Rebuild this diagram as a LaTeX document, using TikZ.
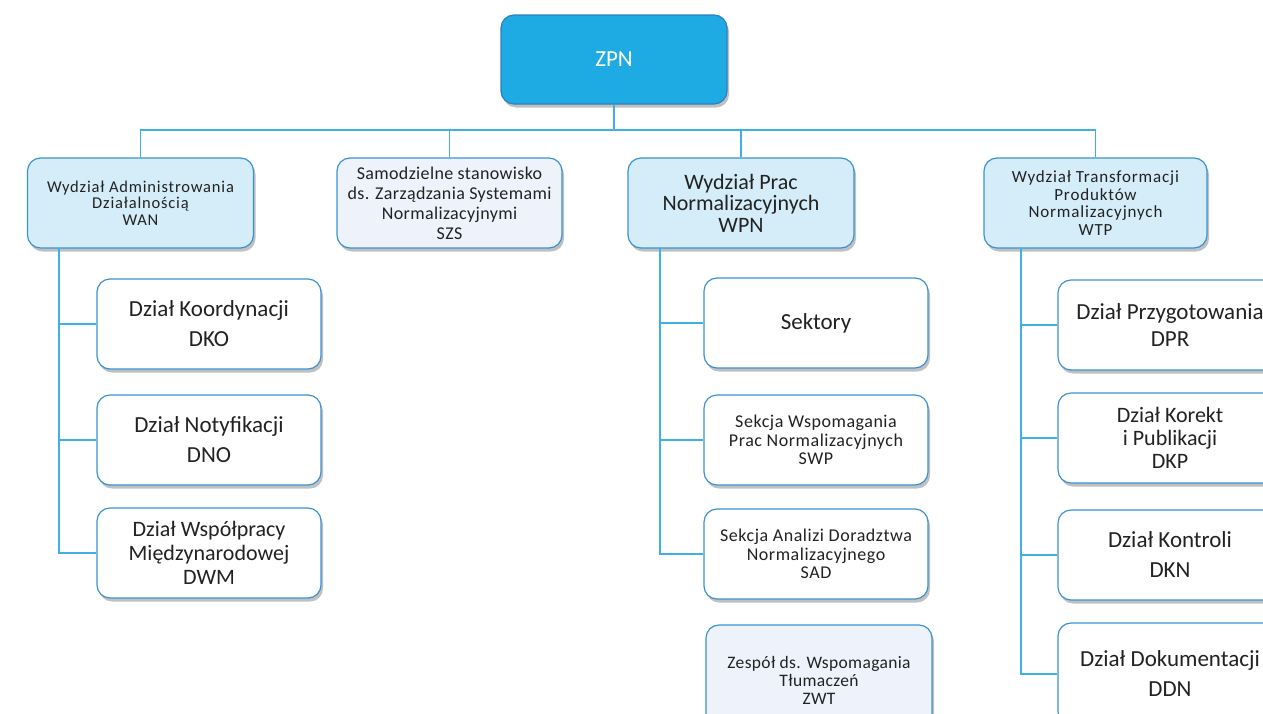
\documentclass[tikz,border=0pt]{standalone}
\usepackage{fontspec}
\setmainfont{Carlito}
\usetikzlibrary{shadows}
\definecolor{topfill}{HTML}{1EAAE2}
\definecolor{topdraw}{HTML}{2E80C0}
\definecolor{lightfill}{HTML}{D4EDF8}
\definecolor{paleFill}{HTML}{EEF2FB}
\definecolor{boxdraw}{HTML}{3A92D4}
\definecolor{conncol}{HTML}{3DB1E6}
\definecolor{txt}{HTML}{222222}
\tikzset{
  basebox/.style={draw=boxdraw, line width=1.2pt, rounded corners=13pt, align=center,
    text=txt, inner sep=1pt,
    drop shadow={shadow xshift=2pt, shadow yshift=-3.5pt, opacity=0.35, fill=black!70}},
  topbox/.style={basebox, draw=topdraw, fill=topfill, text=white, minimum width=226pt, minimum height=89pt, font=\fontsize{23}{26}\selectfont},
  deptbox/.style={basebox, fill=lightfill, minimum width=226pt, minimum height=90pt},
  palebox/.style={basebox, fill=paleFill, minimum width=226pt, minimum height=90pt},
  unitbox/.style={basebox, fill=white, minimum width=224pt, minimum height=90pt},
  bigfont/.style={font=\fontsize{23}{30}\selectfont},
  conn/.style={draw=conncol, line width=1.3pt}
}
\begin{document}
\begin{tikzpicture}[x=1pt,y=-1pt]
\useasboundingbox (0,0) rectangle (1263,713);
\fill[white] (0,0) rectangle (1263,713);
\clip (0,0) rectangle (1263,713);

% top
\node[topbox] (zpn) at (614,59.5) {ZPN};

% level 2
\node[deptbox, font=\fontsize{16.5}{16.5}\selectfont\addfontfeatures{LetterSpace=5}] (wan) at (140.5,203) {Wydział Administrowania\\Działalnością\\WAN};
\node[palebox, font=\fontsize{18}{20}\selectfont\addfontfeatures{LetterSpace=2}, minimum width=225pt] (szs) at (449.5,203) {Samodzielne stanowisko\\ds. Zarządzania Systemami\\Normalizacyjnymi\\SZS};
\node[deptbox, font=\fontsize{22}{21.5}\selectfont] (wpn) at (741,203) {Wydział Prac\\Normalizacyjnych\\WPN};
\node[deptbox, font=\fontsize{17}{17.5}\selectfont\addfontfeatures{LetterSpace=5}, minimum width=223pt] (wtp) at (1095.5,203) {Wydział Transformacji\\Produktów\\Normalizacyjnych\\WTP};

% bus
\coordinate (bus) at (614,130);
\draw[conn] (zpn.south) -- (bus);
\draw[conn] (wan.north) |- (bus) -| (wtp.north);
\draw[conn] (szs.north) -- (szs.north |- bus);
\draw[conn] (wpn.north) -- (wpn.north |- bus);

% WAN subtree
\node[unitbox, bigfont] (dko) at (209,324) {Dział Koordynacji\\DKO};
\node[unitbox, bigfont] (dno) at (209,440) {Dział Notyfikacji\\DNO};
\node[unitbox, font=\fontsize{22}{24}\selectfont] (dwm) at (209,553) {Dział Współpracy\\Międzynarodowej\\DWM};
\coordinate (wanT) at (59,248);
\draw[conn] (wanT) |- (dwm.west);
\draw[conn] (dko.west) -- (dko.west -| wanT);
\draw[conn] (dno.west) -- (dno.west -| wanT);

% WPN subtree
\node[unitbox, font=\fontsize{23}{26}\selectfont] (sek) at (816,323) {Sektory};
\node[unitbox, font=\fontsize{18}{18.5}\selectfont\addfontfeatures{LetterSpace=3}] (swp) at (816,440) {Sekcja Wspomagania\\Prac Normalizacyjnych\\SWP};
\node[unitbox, font=\fontsize{18}{18.5}\selectfont\addfontfeatures{LetterSpace=3}] (sad) at (816,554) {Sekcja Analizi Doradztwa\\Normalizacyjnego\\SAD};
\node[palebox, font=\fontsize{17.5}{18}\selectfont\addfontfeatures{LetterSpace=2}, minimum height=110pt] (zwt) at (819,680) {Zespół ds. Wspomagania\\Tłumaczeń\\ZWT};
\coordinate (wpnT) at (660,248);
\draw[conn] (wpnT) |- (sad.west);
\draw[conn] (sek.west) -- (sek.west -| wpnT);
\draw[conn] (swp.west) -- (swp.west -| wpnT);

% WTP subtree
\node[unitbox, font=\fontsize{23}{27}\selectfont] (dpr) at (1170,325) {Dział Przygotowania\\DPR};
\node[unitbox, font=\fontsize{22}{23}\selectfont] (dkp) at (1170,438) {Dział Korekt\\i Publikacji\\DKP};
\node[unitbox, bigfont] (dkn) at (1170,555) {Dział Kontroli\\DKN};
\node[unitbox, bigfont, minimum height=102pt] (ddn) at (1170,674) {Dział Dokumentacji\\DDN};
\coordinate (wtpT) at (1021,248);
\draw[conn] (wtpT) |- (ddn.west);
\draw[conn] (dpr.west) -- (dpr.west -| wtpT);
\draw[conn] (dkp.west) -- (dkp.west -| wtpT);
\draw[conn] (dkn.west) -- (dkn.west -| wtpT);
\end{tikzpicture}
\end{document}
